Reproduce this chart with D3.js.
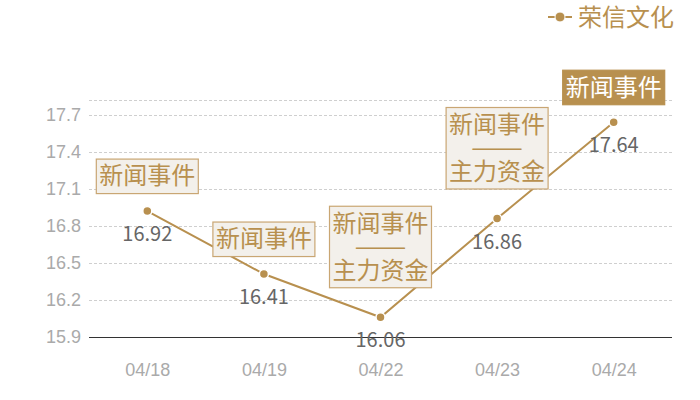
<!DOCTYPE html>
<html>
<head>
<meta charset="utf-8">
<script src="https://cdn.jsdelivr.net/npm/d3@7"></script>
<style>
  body { margin: 0; background: #fff; }
  svg { font-family: "Noto Sans CJK SC", "Noto Sans", sans-serif; }
</style>
</head>
<body>
<svg id="chart" width="700" height="400"></svg>
<script>
const seriesName = "荣信文化";
const dates = ["04/18", "04/19", "04/22", "04/23", "04/24"];
const prices = [16.92, 16.41, 16.06, 16.86, 17.64];
const yTicks = [15.9, 16.2, 16.5, 16.8, 17.1, 17.4, 17.7];
const yMax = 17.82;
const notes = [
  ["新闻事件"],
  ["新闻事件"],
  ["新闻事件", "——", "主力资金"],
  ["新闻事件", "——", "主力资金"],
  ["新闻事件"],
];

const gold = "#b8904f";
const svg = d3.select("#chart");
const margin = { left: 89, right: 672, top: 100, bottom: 337 };

const x = d3.scalePoint().domain(dates).range([margin.left, margin.right]).padding(0.5);
const y = d3.scaleLinear().domain([yTicks[0], yMax]).range([margin.bottom, margin.top]);

// grid
const grid = [...yTicks.slice(1), yMax];
svg.append("g")
  .selectAll("line")
  .data(grid)
  .join("line")
  .attr("x1", margin.left)
  .attr("x2", margin.right)
  .attr("y1", (d) => Math.round(y(d)) + 0.5)
  .attr("y2", (d) => Math.round(y(d)) + 0.5)
  .attr("stroke", "#cfcfcf")
  .attr("stroke-dasharray", "3,2");

const yAxis = svg.append("g")
  .attr("transform", `translate(${margin.left},0)`)
  .call(d3.axisLeft(y).tickValues(yTicks).tickSize(0).tickPadding(8).tickFormat(d3.format(".1f")));
yAxis.select(".domain").remove();
yAxis.selectAll("text").attr("fill", "#aaaaaa").attr("font-size", 18);

const xAxis = svg.append("g")
  .attr("transform", `translate(0,${y(yTicks[0])})`)
  .call(d3.axisBottom(x).tickSize(0).tickPadding(26));
xAxis.select(".domain").attr("stroke", "#333").attr("d", `M${margin.left},0.5H${margin.right}`);
xAxis.selectAll("text").attr("fill", "#aaaaaa").attr("font-size", 18);

// line
const pts = dates.map((d, i) => ({ date: d, value: prices[i], note: notes[i], last: i === dates.length - 1 }));
svg.append("path")
  .datum(pts)
  .attr("fill", "none")
  .attr("stroke", gold)
  .attr("stroke-width", 2)
  .attr("d", d3.line().x((d) => x(d.date)).y((d) => y(d.value)));

svg.append("g")
  .selectAll("circle")
  .data(pts)
  .join("circle")
  .attr("cx", (d) => x(d.date))
  .attr("cy", (d) => y(d.value))
  .attr("r", 4.5)
  .attr("fill", gold)
  .attr("stroke", "#fff")
  .attr("stroke-width", 1.5);

svg.append("g")
  .selectAll("text")
  .data(pts)
  .join("text")
  .attr("x", (d) => x(d.date))
  .attr("y", (d) => y(d.value) + 30)
  .attr("text-anchor", "middle")
  .attr("font-size", 20)
  .attr("fill", "#666")
  .text((d) => d.value.toFixed(2));

// annotation boxes
const lineH = 23.5;
const notesG = svg.append("g")
  .selectAll("g")
  .data(pts)
  .join("g")
  .attr("transform", (d) => {
    const h = d.note.length * lineH + 11;
    const off = d.note.length > 1 ? 30 : 18;
    return `translate(${x(d.date)},${y(d.value) - off - h})`;
  });

notesG.append("rect")
  .attr("x", -51)
  .attr("y", 0.5)
  .attr("width", 102)
  .attr("height", (d) => d.note.length * lineH + 11)
  .attr("fill", (d) => (d.last ? gold : "#f3f0eb"))
  .attr("stroke", (d) => (d.last ? gold : "#c9a673"))
  .attr("stroke-width", 1.2);

notesG.each(function (d) {
  const g = d3.select(this);
  d.note.forEach((t, i) => {
    const txt = g.append("text")
      .attr("y", 5.5 + lineH * i + lineH / 2)
      .attr("dy", "0.36em")
      .attr("font-size", 24)
      .attr("fill", d.last ? "#fff" : gold)
      .text(t);
    if (t === "——") {
      txt.attr("x", -26).attr("textLength", 52).attr("lengthAdjust", "spacingAndGlyphs");
    } else {
      txt.attr("x", 0).attr("text-anchor", "middle");
    }
  });
});

// legend
const legend = svg.append("g").attr("transform", "translate(548,17)");
legend.append("line").attr("x1", 0).attr("x2", 24).attr("stroke", gold).attr("stroke-width", 2);
legend.append("circle").attr("cx", 12).attr("r", 5).attr("fill", gold).attr("stroke", "#fff").attr("stroke-width", 1);
legend.append("text")
  .attr("x", 30)
  .attr("dy", "0.36em")
  .attr("font-size", 24)
  .attr("fill", gold)
  .text(seriesName);
</script>
</body>
</html>
